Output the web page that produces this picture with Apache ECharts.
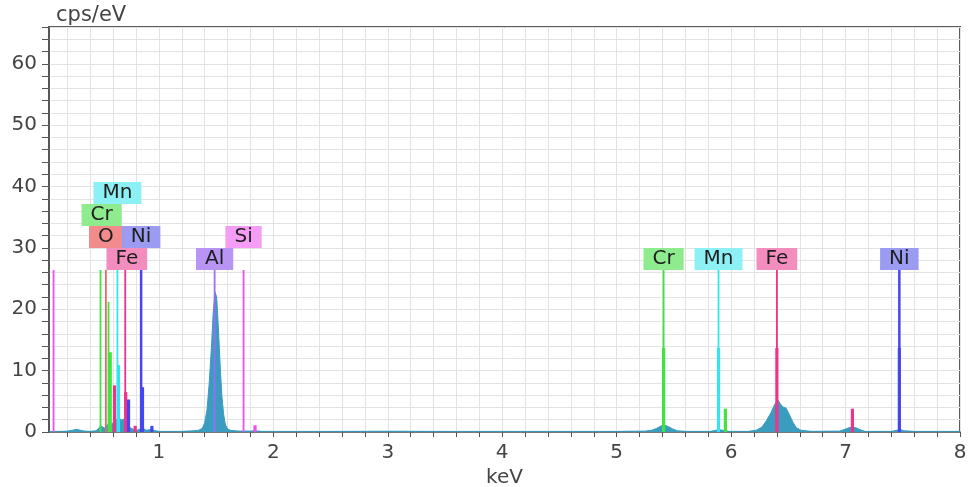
<!DOCTYPE html>
<html>
<head>
<meta charset="utf-8">
<script src="https://cdn.jsdelivr.net/npm/echarts@6/dist/echarts.min.js"></script>
<style>
html,body{margin:0;padding:0;background:#fff;}
#chart{width:970px;height:487px;}
</style>
</head>
<body>
<div id="chart"></div>
<script>
// ---- data ----
const xTickLabels = [1, 2, 3, 4, 5, 6, 7, 8];
const yTickLabels = [0, 10, 20, 30, 40, 50, 60];

const spectrumKeV = [0.04,0.10,0.15,0.20,0.25,0.28,0.31,0.35,0.40,0.45,0.47,0.49,0.51,0.53,0.55,0.57,0.59,0.61,0.63,0.65,0.67,0.69,0.71,0.73,0.75,0.78,0.81,0.84,0.86,0.89,0.93,0.95,1.00,1.10,1.20,1.30,1.35,1.38,1.40,1.42,1.44,1.46,1.475,1.49,1.505,1.52,1.535,1.55,1.565,1.58,1.60,1.63,1.70,1.80,1.84,1.90,2.5,3.0,3.5,4.0,4.5,5.0,5.25,5.31,5.35,5.39,5.42,5.45,5.49,5.53,5.6,5.82,5.86,5.9,5.94,5.98,6.15,6.22,6.27,6.31,6.35,6.38,6.41,6.43,6.45,6.48,6.51,6.54,6.57,6.61,6.7,6.95,6.99,7.03,7.06,7.09,7.13,7.17,7.4,7.45,7.48,7.51,7.6,8.0];
const spectrumCps = [0.05,0.1,0.1,0.15,0.3,0.45,0.3,0.15,0.1,0.2,0.5,1.0,0.8,0.6,1.2,1.6,1.2,1.8,2.0,2.4,1.9,2.1,1.5,1.0,0.7,0.4,0.3,0.5,0.6,0.3,0.4,0.3,0.1,0.1,0.1,0.2,0.3,0.6,1.5,3.5,8,14,19.5,22.8,22,17,11,6,3,1.3,0.5,0.25,0.15,0.15,0.2,0.1,0.1,0.12,0.1,0.1,0.1,0.1,0.15,0.3,0.6,1.0,1.1,0.9,0.5,0.2,0.1,0.1,0.25,0.35,0.25,0.1,0.1,0.3,0.8,1.9,3.2,4.5,5.2,4.6,4.1,3.9,2.8,1.6,0.7,0.3,0.1,0.15,0.4,0.7,0.8,0.7,0.35,0.1,0.1,0.3,0.4,0.2,0.1,0.1];

// element marker lines: energy (keV) and height (cps/eV)
const elements = ['Si', 'Cr', 'O', 'Mn', 'Fe', 'Ni', 'Al'];
const siKeV = [0.08, 1.74, 1.84];           const siHeight = [26.4, 26.4, 1.1];
const crKeV = [0.49, 0.56, 0.575, 5.41, 5.41, 5.95]; const crHeight = [26.4, 21.2, 13.0, 26.4, 13.7, 3.8];
const oKeV  = [0.537];                       const oHeight  = [26.4];
const mnKeV = [0.638, 0.647, 5.89, 5.89];    const mnHeight = [26.4, 10.9, 26.4, 13.7];
const feKeV = [0.706, 0.612, 0.71, 0.793, 6.40, 6.40, 7.06]; const feHeight = [26.4, 7.6, 6.5, 1.0, 26.4, 13.7, 3.8];
const niKeV = [0.845, 0.857, 0.735, 0.939, 7.47, 7.47]; const niHeight = [26.4, 7.3, 5.3, 1.0, 26.4, 13.7];
const alKeV = [1.487];                       const alHeight = [26.4];

// element label boxes: name, energy (keV), stacking row
const labelNames = ['Mn', 'Cr', 'O', 'Ni', 'Fe', 'Al', 'Si', 'Cr', 'Mn', 'Fe', 'Ni'];
const labelKeV   = [0.638, 0.50, 0.537, 0.845, 0.72, 1.487, 1.74, 5.41, 5.89, 6.40, 7.47];
const labelRow   = [3, 2, 1, 1, 0, 0, 1, 0, 0, 0, 0];
const labelTop = 26.4;

// ---- styles ----
const lineColor = {Si:'#f04ef0', Cr:'#3fe43f', O:'#f06666', Mn:'#36e3f0', Fe:'#f0328a', Ni:'#4646f0', Al:'#9c6cf4'};
const boxColor  = {Si:'#f59cf5', Cr:'#8eec8e', O:'#f28b8b', Mn:'#8df0f4', Fe:'#f38dbd', Ni:'#9b9bf2', Al:'#b894f5'};
const FONT = '"DejaVu Sans", Verdana, sans-serif';

const lineSets = {Si:[siKeV,siHeight], Cr:[crKeV,crHeight], O:[oKeV,oHeight], Mn:[mnKeV,mnHeight], Fe:[feKeV,feHeight], Ni:[niKeV,niHeight], Al:[alKeV,alHeight]};

const xMinor = [];
for (let k = 1; k <= 40; k++) xMinor.push(Math.round(k * 2) / 10);
const yMinor = [];
for (let k = 0; k <= 33; k++) yMinor.push(k * 2);

const series = [{
  type: 'line',
  data: spectrumKeV.map((x, i) => [x, spectrumCps[i]]),
  symbol: 'none',
  lineStyle: {color: '#3a9cbf', width: 1},
  areaStyle: {color: '#3a9cbf', opacity: 1},
  z: 2,
  silent: true
}];

elements.forEach(el => {
  const [ks, hs] = lineSets[el];
  series.push({
    type: 'custom',
    z: 3,
    silent: true,
    data: ks.map((k, i) => [k, hs[i]]),
    renderItem: function (params, api) {
      const x = api.value(0), h = api.value(1);
      const p0 = api.coord([x, 0]), p1 = api.coord([x, h]);
      return {
        type: 'line',
        shape: {x1: p0[0], y1: p0[1], x2: p1[0], y2: p1[1]},
        style: {stroke: lineColor[el], lineWidth: (h > 20 ? (el === 'Ni' ? 2.5 : 1.8) : 3.2)}
      };
    }
  });
});

series.push({
  type: 'custom',
  z: 5,
  silent: true,
  data: labelKeV.map((k, i) => [k, labelRow[i], i]),
  renderItem: function (params, api) {
    const x = api.value(0), row = api.value(1), idx = api.value(2);
    const name = labelNames[idx];
    const p = api.coord([x, labelTop]);
    return {
      type: 'text',
      x: p[0],
      y: p[1] - row * 22,
      style: {
        text: name,
        font: '20px ' + FONT,
        fill: '#1e1e1e',
        align: 'center',
        verticalAlign: 'bottom',
        backgroundColor: boxColor[name],
        padding: [0, 9, 0, 9],
        lineHeight: 22
      }
    };
  }
});

const chart = echarts.init(document.getElementById('chart'), null, {renderer: 'canvas'});
chart.setOption({
  animation: false,
  backgroundColor: '#ffffff',
  grid: {left: 49, right: 10, top: 27, bottom: 55, outerBoundsMode: 'none', containLabel: false, show: true, borderColor: '#5c5c5c', borderWidth: 2, backgroundColor: 'transparent'},
  xAxis: {
    type: 'value',
    min: 0.04,
    max: 8,
    name: 'keV',
    nameLocation: 'middle',
    nameGap: 35,
    nameTextStyle: {fontFamily: FONT, fontSize: 20, color: '#444'},
    axisLine: {show: true, onZero: false, lineStyle: {color: '#555', width: 1.5}},
    axisTick: {show: true, customValues: xMinor, length: 5, lineStyle: {color: '#555'}},
    axisLabel: {customValues: xTickLabels, fontFamily: FONT, fontSize: 20, color: '#444', margin: 11},
    splitLine: {show: true, lineStyle: {color: '#e3e3e3', width: 1}}
  },
  yAxis: {
    type: 'value',
    min: 0,
    max: 66,
    name: 'cps/eV',
    nameLocation: 'end',
    nameGap: 1,
    nameTextStyle: {fontFamily: FONT, fontSize: 21, color: '#444', align: 'left', padding: [0, 0, 0, 7]},
    axisLine: {show: true, lineStyle: {color: '#555', width: 1.5}},
    axisTick: {show: true, customValues: yMinor, length: 7, lineStyle: {color: '#555'}},
    axisLabel: {customValues: yTickLabels, fontFamily: FONT, fontSize: 20, color: '#444', margin: 12},
    splitLine: {show: true, lineStyle: {color: '#e3e3e3', width: 1}}
  },
  series: series
});
</script>
</body>
</html>
